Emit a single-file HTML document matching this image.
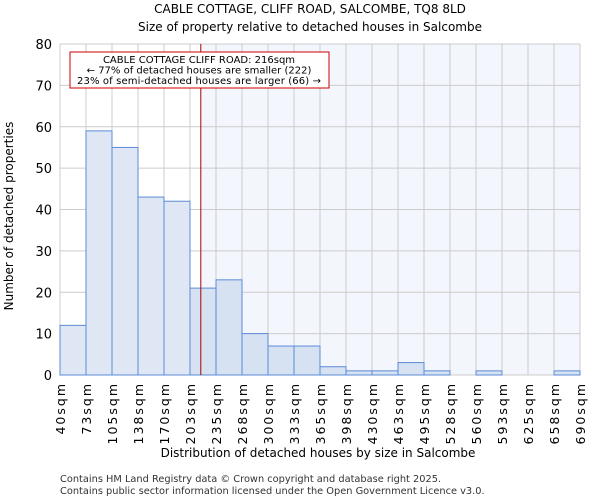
<!DOCTYPE html>
<html><head><meta charset="utf-8"><style>
body{margin:0;background:#fff;font-family:"DejaVu Sans","Liberation Sans",sans-serif;}
</style></head><body>
<svg width="600" height="500" xmlns="http://www.w3.org/2000/svg" font-family="DejaVu Sans, Liberation Sans, sans-serif">
<text x="310" y="13" text-anchor="middle" font-size="12">CABLE COTTAGE, CLIFF ROAD, SALCOMBE, TQ8 8LD</text>
<text x="310" y="31" text-anchor="middle" font-size="12">Size of property relative to detached houses in Salcombe</text>
<g id="plot"></g>
<text x="318" y="457" text-anchor="middle" font-size="12">Distribution of detached houses by size in Salcombe</text>
<text transform="translate(13,216) rotate(-90)" text-anchor="middle" font-size="12">Number of detached properties</text>
<text x="60" y="482" font-size="9.8" fill="#333">Contains HM Land Registry data © Crown copyright and database right 2025.</text>
<text x="60" y="494" font-size="9.8" fill="#333">Contains public sector information licensed under the Open Government Licence v3.0.</text>
</svg>
<script>
const edges=[40,73,105,138,170,203,235,268,300,333,365,398,430,463,495,528,560,593,625,658,690];
const counts=[12,59,55,43,42,21,23,10,7,7,2,1,1,3,1,0,1,0,0,1];
const yTicks=[0,10,20,30,40,50,60,70,80];
const marker=216;
const NS="http://www.w3.org/2000/svg";
const g=document.getElementById('plot');
const X0=60,X1=580,Y0=375,Y1=44;
const xs=i=>X0+i*(X1-X0)/(edges.length-1);
const xv=v=>X0+(v-edges[0])/(edges[edges.length-1]-edges[0])*(X1-X0);
const ys=v=>Y0-v/80*(Y0-Y1);
function mk(t,a){const e=document.createElementNS(NS,t);for(const k in a)e.setAttribute(k,a[k]);g.appendChild(e);return e;}
const mx=xv(marker);
let e=mk('rect',{x:mx,y:Y1,width:X1-mx,height:Y0-Y1,fill:'#f4f6fd'});


for(let i=0;i<edges.length;i++){e=mk('line',{x1:xs(i),x2:xs(i),y1:Y1,y2:Y0,stroke:'#ccc','stroke-width':1});

}
yTicks.forEach(v=>{e=mk('line',{x1:X0,x2:X1,y1:ys(v),y2:ys(v),stroke:'#ccc','stroke-width':1});


e=mk('text',{x:X0-8,y:ys(v)+5,'text-anchor':'end','font-size':13});e.textContent=v;

});
counts.forEach((c,i)=>{if(c<=0)return;const right=edges[i]>=marker-20;
e=mk('rect',{x:xs(i),y:ys(c),width:xs(i+1)-xs(i),height:Y0-ys(c),fill:right?'#d6e1f2':'#dfe7f5',stroke:'#5b8bd6','stroke-width':1});

});
edges.forEach((v,i)=>{e=mk('text',{transform:`translate(${xs(i)+5},382) rotate(-90)`,'text-anchor':'end','font-size':12.5,'letter-spacing':2});e.textContent=v+'sqm';

});
e=mk('line',{x1:mx,x2:mx,y1:Y1,y2:Y0,stroke:'#a00','stroke-width':1});


e=mk('rect',{x:70,y:52,width:259,height:36,fill:'#fff',stroke:'#c00','stroke-width':1});


['CABLE COTTAGE CLIFF ROAD: 216sqm','← 77% of detached houses are smaller (222)','23% of semi-detached houses are larger (66) →'].forEach((t,i)=>{
e=mk('text',{x:199,y:63+i*10.5,'text-anchor':'middle','font-size':10,textLength:i==2?244:null});e.textContent=t;
if(i!==2)e.removeAttribute('textLength');

});
</script>
</body></html>
